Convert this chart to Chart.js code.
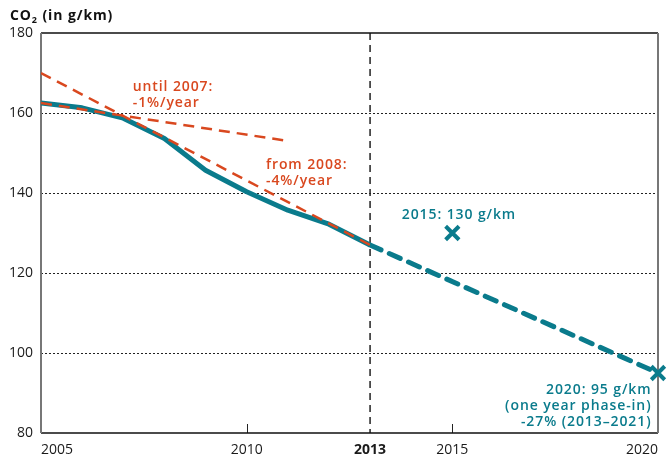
<!DOCTYPE html>
<html>
<head>
<meta charset="utf-8">
<script src="https://cdn.jsdelivr.net/npm/chart.js@4.4.1/dist/chart.umd.min.js"></script>
<style>
  html, body { margin: 0; padding: 0; background: #fff; }
</style>
</head>
<body>
<canvas id="co2Chart" width="667" height="456"></canvas>
<script>
// --- data ---
const years = [2005, 2006, 2007, 2008, 2009, 2010, 2011, 2012, 2013];
const co2Actual = [162.5, 161.3, 158.7, 153.6, 145.7, 140.3, 135.7, 132.2, 127.0];
const projYears = [2013, 2020];
const co2Projection = [127, 95];
const trend1Years = [2005, 2011];
const trend1Values = [162.5, 153];
const trend2Years = [2005, 2013];
const trend2Values = [170, 127];
const targetYears = [2015, 2020];
const targetValues = [130, 95];
const xTicks = [2005, 2010, 2013, 2015, 2020];
const yTicks = [80, 100, 120, 140, 160, 180];

const TEAL = "#0a7b8c";
const RED = "#d9481f";
const FONT = "'Open Sans', sans-serif";
const SPACING = 0.9;

const toXY = (xs, ys) => xs.map((x, i) => ({ x: x, y: ys[i] }));

// frame, dotted grid, 2013 marker line, small x ticks
const framePlugin = {
  id: "frame",
  beforeDatasetsDraw(chart) {
    const { ctx, chartArea: a, scales: { x, y } } = chart;
    ctx.save();
    ctx.strokeStyle = "#222";
    ctx.lineWidth = 1;
    ctx.setLineDash([2, 2]);
    yTicks.slice(1, -1).forEach(v => {
      const py = Math.round(y.getPixelForValue(v)) + 0.5;
      ctx.beginPath();
      ctx.moveTo(a.left, py);
      ctx.lineTo(a.right, py);
      ctx.stroke();
    });
    // 2013 dashed vertical
    ctx.setLineDash([7, 5]);
    ctx.lineWidth = 1.5;
    const px = x.getPixelForValue(2013);
    ctx.beginPath();
    ctx.moveTo(px, a.top);
    ctx.lineTo(px, a.bottom);
    ctx.stroke();
    ctx.setLineDash([]);
    // small ticks
    ctx.lineWidth = 1;
    [2010, 2015].forEach(v => {
      const tx = Math.round(x.getPixelForValue(v)) + 0.5;
      ctx.beginPath();
      ctx.moveTo(tx, a.bottom);
      ctx.lineTo(tx, a.bottom - 9);
      ctx.stroke();
    });
    // top and bottom
    ctx.strokeStyle = "#111";
    ctx.lineWidth = 1.5;
    ctx.beginPath();
    ctx.moveTo(a.left, a.top);
    ctx.lineTo(a.right, a.top);
    ctx.moveTo(a.left, a.bottom);
    ctx.lineTo(a.right, a.bottom);
    ctx.stroke();
    // sides
    ctx.strokeStyle = "#777";
    ctx.lineWidth = 2;
    ctx.beginPath();
    ctx.moveTo(a.left, a.top);
    ctx.lineTo(a.left, a.bottom);
    ctx.moveTo(a.right, a.top);
    ctx.lineTo(a.right, a.bottom);
    ctx.stroke();
    ctx.restore();
  }
};

// annotation texts anchored on data coordinates
const notes = [
  { lines: ["until 2007:", "-1%/year"], x: 2007.23, y: 166.5, color: RED, align: "left" },
  { lines: ["from 2008:", "-4%/year"], x: 2010.47, y: 147, color: RED, align: "left" },
  { lines: ["2015: 130 g/km"], x: 2015.15, y: 134.5, color: TEAL, align: "center" },
  { lines: ["2020: 95 g/km", "(one year phase-in)", "-27% (2013\u20132021)"], x: 2019.82, y: 90.8, color: TEAL, align: "right" }
];

const notesPlugin = {
  id: "notes",
  afterDraw(chart) {
    const { ctx, scales: { x, y } } = chart;
    ctx.save();
    ctx.letterSpacing = SPACING + "px";
    ctx.font = "600 14px " + FONT;
    ctx.textBaseline = "middle";
    notes.forEach(n => {
      ctx.fillStyle = n.color;
      ctx.textAlign = n.align;
      // trailing letter spacing is counted in the width, compensate for it
      const shift = n.align === "right" ? SPACING : n.align === "center" ? SPACING / 2 : 0;
      const px = x.getPixelForValue(n.x) + shift;
      const py = y.getPixelForValue(n.y);
      n.lines.forEach((t, i) => ctx.fillText(t, px, py + i * 16));
    });
    // axis title
    ctx.fillStyle = "#111";
    ctx.textAlign = "left";
    ctx.font = "bold 14px " + FONT;
    ctx.fillText("CO", 10, 16);
    const w = ctx.measureText("CO").width;
    ctx.font = "bold 9px " + FONT;
    ctx.fillText("2", 10 + w, 20);
    const w2 = ctx.measureText("2").width;
    ctx.font = "bold 14px " + FONT;
    ctx.fillText(" (in g/km)", 10 + w + w2, 16);
    ctx.restore();
  }
};

new Chart(document.getElementById("co2Chart"), {
  type: "line",
  data: {
    datasets: [
      {
        label: "until 2007",
        data: toXY(trend1Years, trend1Values),
        borderColor: RED,
        borderWidth: 2.5,
        borderDash: [11, 7],
        pointRadius: 0,
        order: 0
      },
      {
        label: "from 2008",
        data: toXY(trend2Years, trend2Values),
        borderColor: RED,
        borderWidth: 2.5,
        borderDash: [11, 7],
        pointRadius: 0,
        order: 0
      },
      {
        label: "CO2",
        data: toXY(years, co2Actual),
        borderColor: TEAL,
        borderWidth: 5,
        pointRadius: 0,
        borderJoinStyle: "round",
        order: 2
      },
      {
        label: "projection",
        data: toXY(projYears, co2Projection),
        borderColor: TEAL,
        borderWidth: 5,
        borderDash: [12, 9],
        borderCapStyle: "round",
        pointRadius: 0,
        order: 2
      },
      {
        label: "targets",
        type: "scatter",
        data: toXY(targetYears, targetValues),
        pointStyle: "crossRot",
        pointRadius: 9.5,
        pointBorderWidth: 4,
        borderColor: TEAL,
        backgroundColor: TEAL,
        showLine: false,
        clip: false,
        order: 1
      }
    ]
  },
  options: {
    responsive: false,
    devicePixelRatio: 1,
    animation: false,
    layout: { autoPadding: false, padding: { top: 33, right: 7, left: 0, bottom: 0 } },
    plugins: { legend: { display: false }, tooltip: { enabled: false } },
    scales: {
      x: {
        type: "linear",
        min: 2005,
        max: 2020,
        afterBuildTicks: s => { s.ticks = xTicks.map(v => ({ value: v })); },
        afterFit: s => { s.height = 23; },
        grid: { display: false, drawTicks: false },
        border: { display: false },
        ticks: {
          align: "inner",
          padding: 9,
          maxRotation: 0,
          minRotation: 0,
          autoSkip: false,
          color: "#1a1a1a",
          callback: v => String(v),
          font: c => ({ family: FONT, size: 14, weight: c.tick && c.tick.value === 2013 ? "bold" : "normal" })
        }
      },
      y: {
        min: 80,
        max: 180,
        afterBuildTicks: s => { s.ticks = yTicks.map(v => ({ value: v })); },
        afterFit: s => { s.width = 41; },
        grid: { display: false, drawTicks: false },
        border: { display: false },
        ticks: {
          padding: 8,
          color: "#1a1a1a",
          font: { family: FONT, size: 14 }
        }
      }
    }
  },
  plugins: [framePlugin, notesPlugin]
});
</script>
</body>
</html>
